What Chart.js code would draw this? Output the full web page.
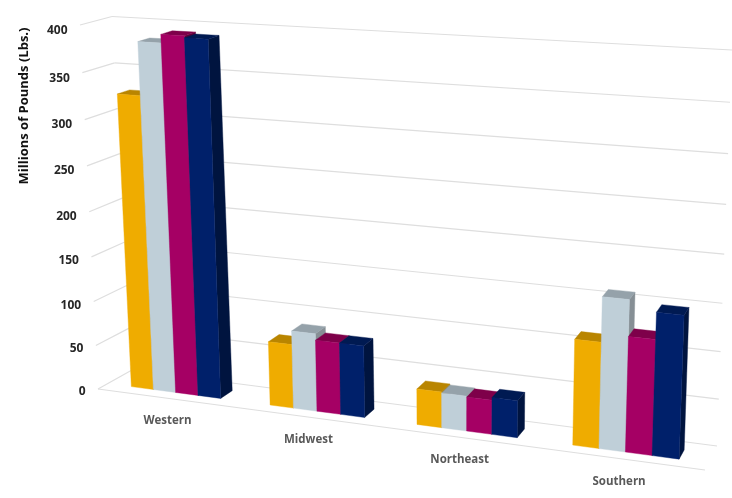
<!DOCTYPE html>
<html>
<head>
<meta charset="utf-8">
<style>html,body{margin:0;padding:0;background:#fff}canvas{display:block}</style>
<script src="https://cdn.jsdelivr.net/npm/chart.js@4"></script>
</head>
<body>
<canvas id="c" width="732" height="498"></canvas>
<script>
const categories = ['Western', 'Midwest', 'Northeast', 'Southern'];
const seriesA = [326, 71, 39, 112];
const seriesB = [383, 86, 38, 159];
const seriesC = [392, 79, 37, 121];
const seriesD = [390, 79, 40, 149];
const yTicksMax = 400;
const yStep = 50;
const yTitle = 'Millions of Pounds (Lbs.)';
const frontColors = ['#EFAC00', '#BFCFD8', '#A50064', '#00206A'];
const topColors = ['#B98500', '#95A2AA', '#7E004A', '#001A52'];
const sideColors = ['#8F6800', '#868F95', '#5E0038', '#00143F'];

// Picture of the box the bars stand in: a wall at the back, a virtual plane at the front.
const backWall = [[132, 370], [717, 446], [732, 50], [112, 16.5]];
const frontWall = [[98, 389], [705, 470], [721, 63.5], [80, 25]];
const barFrontDepth = 0.29, barBackDepth = 0.68;

function homography(q) {
  const [[x0, y0], [x1, y1], [x2, y2], [x3, y3]] = q;
  const dx1 = x1 - x2, dx2 = x3 - x2, sx = x0 - x1 + x2 - x3;
  const dy1 = y1 - y2, dy2 = y3 - y2, sy = y0 - y1 + y2 - y3;
  const den = dx1 * dy2 - dx2 * dy1;
  const g = (sx * dy2 - dx2 * sy) / den, h = (dx1 * sy - sx * dy1) / den;
  const a = x1 - x0 + g * x1, b = x3 - x0 + h * x3;
  const d = y1 - y0 + g * y1, e = y3 - y0 + h * y3;
  return (u, v) => {
    const w = g * u + h * v + 1;
    return [(a * u + b * v + x0) / w, (d * u + e * v + y0) / w];
  };
}
const hBack = homography(backWall), hFront = homography(frontWall);
function project(u, v, depth) {
  const f = hFront(u, v), b = hBack(u, v);
  return [f[0] + (b[0] - f[0]) * depth, f[1] + (b[1] - f[1]) * depth];
}
function poly(ctx, pts, fill) {
  ctx.beginPath();
  pts.forEach((p, i) => i ? ctx.lineTo(p[0], p[1]) : ctx.moveTo(p[0], p[1]));
  ctx.closePath();
  ctx.fillStyle = fill;
  ctx.fill();
  ctx.strokeStyle = fill;
  ctx.lineWidth = 0.4;
  ctx.stroke();
}
function line(ctx, a, b) {
  ctx.beginPath();
  ctx.moveTo(a[0], a[1]);
  ctx.lineTo(b[0], b[1]);
  ctx.stroke();
}

const perspective = {
  id: 'perspective',
  beforeDatasetsDraw(chart) {
    const ctx = chart.ctx, xs = chart.scales.x, ys = chart.scales.y, area = chart.chartArea;
    const U = px => (px - area.left) / (area.right - area.left);
    const V = py => (area.bottom - py) / (area.bottom - area.top);
    ctx.save();
    // grid
    ctx.strokeStyle = '#DEDEDE';
    ctx.lineWidth = 1.2;
    ys.ticks.forEach(t => {
      const v = V(ys.getPixelForValue(t.value));
      line(ctx, project(0, v, 0), project(0, v, 1));
      line(ctx, project(0, v, 1), project(1, v, 1));
    });
    line(ctx, project(0, 0, 0), project(1, 0, 0));
    // y tick labels
    ctx.fillStyle = '#262626';
    ctx.font = '700 12px "Open Sans"';
    ctx.textAlign = 'right';
    ctx.textBaseline = 'middle';
    ys.ticks.forEach(t => {
      const v = V(ys.getPixelForValue(t.value));
      const p = project(0, v, 0);
      ctx.fillText(String(t.value), p[0] - 12.5, p[1] + 3 + 3 * v);
    });
    // x labels
    ctx.fillStyle = '#595959';
    ctx.font = '700 11.5px "Open Sans"';
    ctx.textAlign = 'center';
    const nudge = [1, -1, -1, -2];
    categories.forEach((c, i) => {
      const p = project(U(xs.getPixelForTick(i)), 0, 0);
      ctx.fillText(c, p[0] + nudge[i], p[1] + 22.5);
    });
    // y title
    ctx.save();
    ctx.translate(24, 106);
    ctx.rotate(-Math.PI / 2);
    ctx.fillStyle = '#111';
    ctx.font = '700 13px "Open Sans"';
    ctx.textAlign = 'center';
    ctx.fillText(yTitle, 0, 0);
    ctx.restore();
    // bars, category by category, left to right
    categories.forEach((c, i) => {
      chart.data.datasets.forEach((ds, k) => {
        const el = chart.getDatasetMeta(k).data[i];
        const u0 = U(el.x - el.width / 2), u1 = U(el.x + el.width / 2);
        const v0 = V(el.base), v1 = V(el.y);
        const d0 = barFrontDepth, d1 = barBackDepth;
        poly(ctx, [project(u1, v0, d0), project(u1, v0, d1), project(u1, v1, d1), project(u1, v1, d0)], sideColors[k]);
        poly(ctx, [project(u0, v1, d0), project(u1, v1, d0), project(u1, v1, d1), project(u0, v1, d1)], topColors[k]);
        poly(ctx, [project(u0, v0, d0), project(u1, v0, d0), project(u1, v1, d0), project(u0, v1, d0)], frontColors[k]);
      });
    });
    ctx.restore();
    return false;
  }
};

new Chart(document.getElementById('c'), {
  type: 'bar',
  data: {
    labels: categories,
    datasets: [seriesA, seriesB, seriesC, seriesD].map((data, k) => ({
      label: 'Series ' + (k + 1),
      data,
      backgroundColor: frontColors[k],
      barPercentage: 1,
      categoryPercentage: 0.65
    }))
  },
  options: {
    responsive: false,
    animation: false,
    devicePixelRatio: 1,
    layout: { padding: 0 },
    plugins: { legend: { display: false }, tooltip: { enabled: false } },
    scales: {
      x: { display: false },
      y: { display: false, min: 0, max: yTicksMax, ticks: { stepSize: yStep } }
    }
  },
  plugins: [perspective]
});
</script>
</body>
</html>
